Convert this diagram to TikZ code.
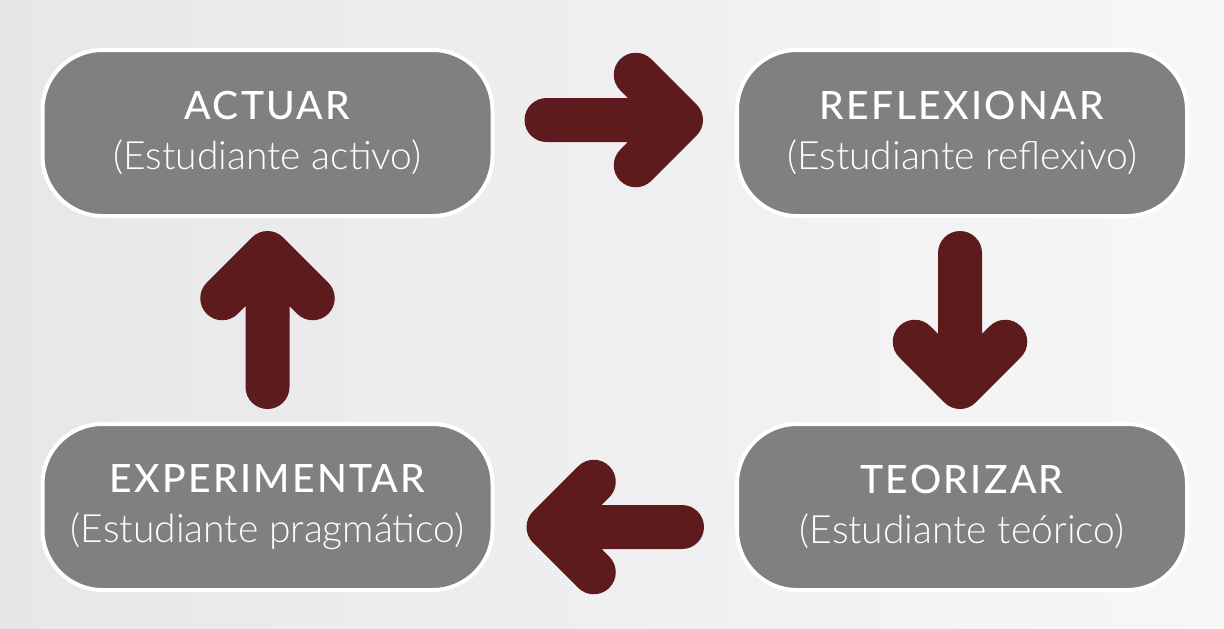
\documentclass[tikz,border=0pt]{standalone}
\usepackage{fontspec}
\setmainfont{Lato}
\newfontfamily\titlefont{Lato Medium}
\newfontfamily\lightfont{Lato Light}
\usetikzlibrary{calc}
\definecolor{boxgray}{RGB}{128,128,128}
\definecolor{arrowred}{RGB}{94,27,29}
\definecolor{bgleft}{RGB}{231,231,233}
\definecolor{bgright}{RGB}{247,247,248}
\tikzset{
  stagebox/.style={draw=white, line width=2pt, fill=boxgray, rounded corners=30pt,
    minimum width=225pt, minimum height=83pt, inner sep=0pt, align=center, text=white},
  fatarrow/.style={draw=arrowred, line width=22pt, line cap=round, line join=round,
    to path={-- (\tikztotarget) ($(\tikztotarget)!32pt!45:(\tikztostart)$) -- (\tikztotarget)
      -- ($(\tikztotarget)!32pt!-45:(\tikztostart)$)}}
}
\newcommand{\stagetext}[2]{{\titlefont\fontsize{19.5}{26}\selectfont\addfontfeature{LetterSpace=6}#1}\\[9pt]%
  {\lightfont\fontsize{19.5}{26}\selectfont #2}}

\begin{document}
\begin{tikzpicture}[x=0.5pt,y=-0.5pt]
  % fondo
  \shade[left color=bgleft, right color=bgright] (0,0) rectangle (1224,628);

  % etapas del ciclo
  \node[stagebox] (actuar) at (267.5,133) {\stagetext{ACTUAR}{(Estudiante activo)}};
  \node[stagebox] (reflex) at (962,133) {\stagetext{REFLEXIONAR}{(Estudiante reflexivo)}};
  \node[stagebox] (teoriz) at (962,507) {\stagetext{TEORIZAR}{(Estudiante teórico)}};
  \node[stagebox] (experim) at (267.5,507) {\stagetext{EXPERIMENTAR}{(Estudiante pragmático)}};

  % extremos de las flechas
  \coordinate (ar1) at ([xshift=26pt,yshift=6.5pt]actuar.east);
  \coordinate (ar2) at ([xshift=-27pt,yshift=6.5pt]reflex.west);
  \coordinate (rt1) at ([xshift=-1pt,yshift=-17.5pt]reflex.south);
  \coordinate (rt2) at ([xshift=-1pt,yshift=17.5pt]teoriz.north);
  \coordinate (te1) at ([xshift=-26.5pt,yshift=-10pt]teoriz.west);
  \coordinate (te2) at ([xshift=27pt,yshift=-10pt]experim.east);
  \coordinate (ea1) at ([yshift=17.5pt]experim.north);
  \coordinate (ea2) at ([yshift=-17.5pt]actuar.south);

  \draw[fatarrow] (ar1) to (ar2);
  \draw[fatarrow] (rt1) to (rt2);
  \draw[fatarrow] (te1) to (te2);
  \draw[fatarrow] (ea1) to (ea2);
\end{tikzpicture}
\end{document}
